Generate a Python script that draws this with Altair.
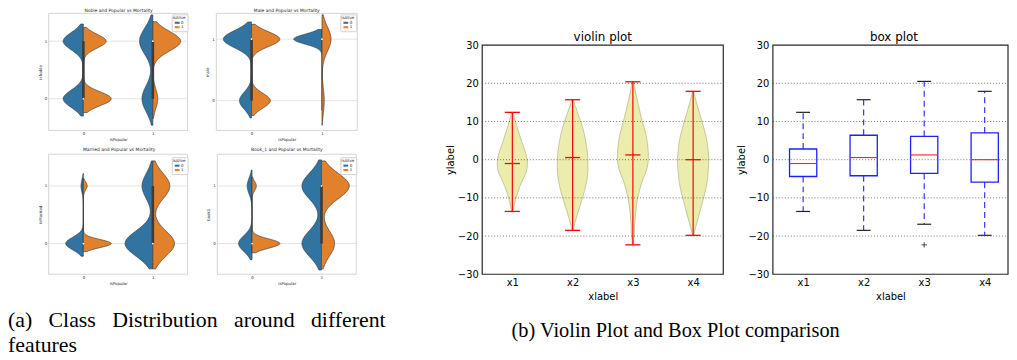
import altair as alt
import pandas as pd

W, H = 1009, 352
FONT = "DejaVu Sans"
TXT = "#262626"
BLUE, ORANGE = "#3274a1", "#e1812c"
EDGE = "#3c3c3c"

# ---------------- (a) seaborn split violins: data ----------------
# halves in order: (isPopular, isAlive) = (0,0), (0,1), (1,0), (1,1)
HALF_POP = [0, 0, 1, 1]
HALF_ALIVE = [0, 1, 0, 1]
LEVELS = [0, 1]

NOBLE_ZEROS = [10, 11, 9, 3]
NOBLE_ONES = [10, 9, 11, 17]
NOBLE_BW = [0.15, 0.12, 0.23, 0.17]
NOBLE_BOX = ([0, 0], [1, 1], [0, 1])   # box low, box high, median per isPopular level

MALE_ZEROS = [6, 8, 0, 4]
MALE_ONES = [14, 12, 20, 16]
MALE_BW = [0.14, 0.12, 0.08, 0.20]
MALE_BOX = ([0, 1], [1, 1], [1, 1])

MARRIED_ZEROS = [22, 22, 18, 14]
MARRIED_ONES = [3, 3, 7, 11]
MARRIED_BW = [0.11, 0.07, 0.22, 0.22]
MARRIED_BOX = ([0, 0], [0, 1], [0, 0])

BOOK_ZEROS = [22, 26, 15, 8]
BOOK_ONES = [8, 4, 15, 17]
BOOK_BW = [0.14, 0.08, 0.23, 0.22]
BOOK_BOX = ([0, 0], [0, 1], [0, 1])

SNS_XDOM = [-0.5, 1.5]

SNS = [
    dict(title="Noble and Popular vs Mortality", ylab="isNoble", zeros=NOBLE_ZEROS, ones=NOBLE_ONES,
         bw=NOBLE_BW, box=NOBLE_BOX, xr=[41, 181], yr=[122, 4], yd=[-0.55, 1.483],
         leg=(165, 5), tpos=(111.5, 1.5)),
    dict(title="Male and Popular vs Mortality", ylab="male", zeros=MALE_ZEROS, ones=MALE_ONES,
         bw=MALE_BW, box=MALE_BOX, xr=[210, 352], yr=[122, 4], yd=[-0.484, 1.419],
         leg=(335, 5), tpos=(281, 1.5)),
    dict(title="Married and Popular vs Mortality", ylab="isMarried", zeros=MARRIED_ZEROS, ones=MARRIED_ONES,
         bw=MARRIED_BW, box=MARRIED_BOX, xr=[41, 181], yr=[267, 146], yd=[-0.534, 1.552],
         leg=(165, 149), tpos=(112, 142)),
    dict(title="Book_1 and Popular vs Mortality", ylab="book1", zeros=BOOK_ZEROS, ones=BOOK_ONES,
         bw=BOOK_BW, box=BOOK_BOX, xr=[211, 351], yr=[267, 146], yd=[-0.534, 1.552],
         leg=(335, 149), tpos=(281, 142)),
]


def sns_panel(s):
    xs = alt.Scale(domain=SNS_XDOM, range=s["xr"], nice=False, zero=False)
    ys = alt.Scale(domain=s["yd"], range=s["yr"], nice=False, zero=False)
    common = dict(labelFontSize=4, titleFontSize=4, labelFont=FONT, titleFont=FONT,
                  labelColor=TXT, titleColor=TXT, titleFontWeight="normal",
                  domain=False, ticks=False, grid=False, values=LEVELS, format="d")
    xax = alt.Axis(orient="bottom", offset=s["yr"][0] - H, title="isPopular",
                   labelPadding=1.5, titlePadding=1.5, **common)
    yax = alt.Axis(orient="left", offset=-s["xr"][0], title=s["ylab"],
                   labelPadding=2, titlePadding=2, **common)

    def X(f):
        return alt.X(f"{f}:Q", scale=xs, axis=xax, stack=None)

    def Y(f):
        return alt.Y(f"{f}:Q", scale=ys, axis=yax, stack=None)

    rows = []
    for pop, alive, n0, n1, b in zip(HALF_POP, HALF_ALIVE, s["zeros"], s["ones"], s["bw"]):
        rows += [{"pop": pop, "alive": alive, "bw": b, "v": 0}] * n0
        rows += [{"pop": pop, "alive": alive, "bw": b, "v": 1}] * n1
    zmax = 1 / min(s["bw"]) + 2.05

    grid_df = pd.DataFrame({"t": LEVELS, "x0": SNS_XDOM[0], "x1": SNS_XDOM[1]})
    grid = alt.Chart(grid_df).mark_rule(color="#e4e4e4", strokeWidth=1).encode(
        x=X("x0"), x2="x1:Q", y=Y("t"))

    violins = (
        alt.Chart(pd.DataFrame(rows))
        .transform_calculate(z="datum.v / datum.bw")
        .transform_density("z", groupby=["pop", "alive", "bw"], bandwidth=1,
                           extent=[-2, zmax], steps=400, as_=["z", "dens"])
        .transform_filter("datum.z <= 1 / datum.bw + 2.0001")
        .transform_calculate(val="datum.z * datum.bw", d="datum.dens / datum.bw")
        .transform_joinaggregate(dmax="max(d)", groupby=["pop"])
        .transform_calculate(w="0.4 * datum.d / datum.dmax")
        .transform_calculate(xo="datum.alive == 0 ? datum.pop - datum.w : datum.pop + datum.w")
        .mark_area(orient="horizontal", stroke=EDGE, strokeWidth=0.7, opacity=1)
        .encode(
            y=Y("val"), x=X("pop"), x2="xo:Q", detail="pop:N",
            color=alt.Color("alive:N", scale=alt.Scale(domain=[0, 1], range=[BLUE, ORANGE]),
                            legend=alt.Legend(title="isAlive", orient="none",
                                              legendX=s["leg"][0], legendY=s["leg"][1],
                                              titleFontSize=4, labelFontSize=4, titleFont=FONT,
                                              labelFont=FONT, titleColor=TXT, labelColor=TXT,
                                              titleFontWeight="normal", titleAnchor="middle",
                                              symbolType="M-1.6,-0.7H1.6V0.7H-1.6Z", symbolSize=9,
                                              symbolStrokeWidth=0, padding=1.5, rowPadding=0.5,
                                              titlePadding=1, labelOffset=2, fillColor="white",
                                              strokeColor="#d0d0d0", cornerRadius=1)),
        )
    )

    lo, hi, med = s["box"]
    box_df = pd.DataFrame({"pop": LEVELS, "lo": lo, "hi": hi, "med": med})
    box = alt.Chart(box_df).mark_rule(color=EDGE, strokeWidth=2.6, strokeCap="butt").encode(
        x=X("pop"), y=Y("lo"), y2="hi:Q")
    dots = alt.Chart(box_df).mark_circle(color="white", size=3, opacity=1).encode(
        x=X("pop"), y=Y("med"))

    frame_df = pd.DataFrame({"x0": [SNS_XDOM[0]], "x1": [SNS_XDOM[1]],
                             "y0": [s["yd"][0]], "y1": [s["yd"][1]]})
    frame = alt.Chart(frame_df).mark_rect(fillOpacity=0, stroke="#d4d4d4", strokeWidth=1).encode(
        x=X("x0"), x2="x1:Q", y=Y("y0"), y2="y1:Q")

    title = alt.Chart(pd.DataFrame({"t": [s["title"]]})).mark_text(
        fontSize=4.5, font=FONT, color=TXT, align="center", baseline="middle").encode(
        text="t:N", x=alt.value(s["tpos"][0]), y=alt.value(s["tpos"][1]))

    return alt.layer(grid, violins, box, dots, frame, title)


# ---------------- (b) violin plot & box plot: data ----------------
CATS = ["x1", "x2", "x3", "x4"]
POS = [1, 2, 3, 4]
Y_TICKS = [-30, -20, -10, 0, 10, 20, 30]
GRID_Y = [-20, -10, 0, 10, 20]

VIO_Y = [
    [12.4, 11, 9, 7, 5, 3, 1, -1, -3, -5, -7, -9, -11, -13.5],
    [15.8, 14, 12, 10, 7, 4, 1, -2, -5, -8, -11, -14, -16.5, -18.5],
    [20.5, 18, 15, 12, 9, 6, 3, 1, -1, -3, -5, -8, -11, -14, -17, -20, -22.3],
    [17.8, 15, 12, 9, 6, 3, 0, -3, -6, -9, -12, -15, -17.5, -19.8],
]
VIO_W = [
    [0.01, 0.035, 0.07, 0.11, 0.15, 0.195, 0.235, 0.25, 0.235, 0.18, 0.125, 0.08, 0.045, 0.01],
    [0.01, 0.045, 0.09, 0.135, 0.19, 0.225, 0.25, 0.255, 0.24, 0.2, 0.145, 0.085, 0.04, 0.01],
    [0.01, 0.04, 0.08, 0.125, 0.175, 0.225, 0.25, 0.257, 0.25, 0.22, 0.17, 0.11, 0.07, 0.045, 0.03, 0.02, 0.01],
    [0.01, 0.055, 0.11, 0.165, 0.215, 0.245, 0.26, 0.25, 0.23, 0.19, 0.14, 0.09, 0.045, 0.01],
]
VIO_MIN = [-13.55, -18.5, -22.3, -19.8]
VIO_MAX = [12.4, 15.7, 20.4, 17.9]
VIO_MEAN = [-1.0, 0.56, 1.25, 0.0]

BOX_Q1 = [-4.4, -4.2, -3.6, -5.9]
BOX_Q3 = [2.8, 6.4, 6.1, 7.0]
BOX_MED = [-1.0, 0.56, 1.25, 0.0]
WHISK_LO = [-13.55, -18.5, -16.9, -19.8]
WHISK_HI = [12.4, 15.7, 20.5, 17.9]
FLIER_POS = [3]
FLIER_VAL = [-22.3]

B_YDOM = [-30, 30]
B_YR = [267, 36]


def b_scales(xdom, xr):
    xs = alt.Scale(domain=xdom, range=xr, nice=False, zero=False)
    ys = alt.Scale(domain=B_YDOM, range=B_YR, nice=False, zero=False)
    common = dict(labelFontSize=10, titleFontSize=10, labelFont=FONT, titleFont=FONT,
                  labelColor="black", titleColor="black", titleFontWeight="normal",
                  domain=False, ticks=False, grid=False)
    label_expr = "[" + ",".join(f"'{c}'" for c in CATS) + "][datum.value - 1]"
    xax = alt.Axis(orient="bottom", offset=B_YR[0] - H, values=POS, labelExpr=label_expr,
                   title="xlabel", labelPadding=3, titlePadding=4, **common)
    yax = alt.Axis(orient="left", offset=-xr[0], values=Y_TICKS, title="ylabel",
                   labelPadding=4, titlePadding=2, **common)

    def X(f):
        return alt.X(f"{f}:Q", scale=xs, axis=xax, stack=None)

    def Y(f):
        return alt.Y(f"{f}:Q", scale=ys, axis=yax, stack=None)

    return X, Y


def b_frame(X, Y, xdom):
    fdf = pd.DataFrame({"x0": [xdom[0]], "x1": [xdom[1]], "y0": [B_YDOM[0]], "y1": [B_YDOM[1]]})
    frame = alt.Chart(fdf).mark_rect(fillOpacity=0, stroke="#262626", strokeWidth=1.2).encode(
        x=X("x0"), x2="x1:Q", y=Y("y0"), y2="y1:Q")
    gdf = pd.DataFrame({"t": GRID_Y, "x0": xdom[0], "x1": xdom[1]})
    grid = alt.Chart(gdf).mark_rule(color="#555555", strokeWidth=0.8, strokeDash=[1, 2]).encode(
        x=X("x0"), x2="x1:Q", y=Y("t"))
    return frame, grid


def violin_panel():
    xdom, xr = [0.5, 4.5], [478, 721]
    X, Y = b_scales(xdom, xr)
    rows = []
    for p, ys_, ws_ in zip(POS, VIO_Y, VIO_W):
        for yv, wv in zip(ys_, ws_):
            rows.append({"pos": p, "y": yv, "w": wv})
    body = (
        alt.Chart(pd.DataFrame(rows))
        .transform_calculate(lo="datum.pos - datum.w", hi="datum.pos + datum.w")
        .mark_area(orient="horizontal", interpolate="monotone", fill="#c4c400", fillOpacity=0.32,
                   stroke="#a3a370", strokeWidth=0.8, strokeOpacity=0.7)
        .encode(y=Y("y"), x=X("lo"), x2="hi:Q", detail="pos:N")
    )
    sdf = pd.DataFrame({"pos": POS, "mn": VIO_MIN, "mx": VIO_MAX, "mean": VIO_MEAN})
    vline = alt.Chart(sdf).mark_rule(color="red", strokeWidth=1.2).encode(
        x=X("pos"), y=Y("mn"), y2="mx:Q")
    bars = (
        alt.Chart(sdf)
        .transform_fold(["mn", "mx", "mean"], as_=["k", "v"])
        .transform_calculate(a="datum.pos - 0.125", b="datum.pos + 0.125")
        .mark_rule(color="red", strokeWidth=1.3)
        .encode(x=X("a"), x2="b:Q", y=Y("v"))
    )
    frame, grid = b_frame(X, Y, xdom)
    title = alt.Chart(pd.DataFrame({"t": ["violin plot"]})).mark_text(
        fontSize=12, font=FONT, color="black", align="center", baseline="middle").encode(
        text="t:N", x=alt.value(599.5), y=alt.value(28))
    return alt.layer(body, vline, bars, grid, frame, title)


def box_panel():
    xdom, xr = [0.5, 4.385], [771, 1008]
    X, Y = b_scales(xdom, xr)
    bdf = pd.DataFrame({"pos": POS, "q1": BOX_Q1, "q3": BOX_Q3, "med": BOX_MED,
                        "wlo": WHISK_LO, "whi": WHISK_HI})
    rect = (
        alt.Chart(bdf)
        .transform_calculate(a="datum.pos - 0.225", b="datum.pos + 0.225")
        .mark_rect(fillOpacity=0, stroke="#2020ff", strokeWidth=1.3)
        .encode(x=X("a"), x2="b:Q", y=Y("q1"), y2="q3:Q")
    )
    med = (
        alt.Chart(bdf)
        .transform_calculate(a="datum.pos - 0.225", b="datum.pos + 0.225")
        .mark_rule(color="#ff2020", strokeWidth=1.1)
        .encode(x=X("a"), x2="b:Q", y=Y("med"))
    )
    w_hi = alt.Chart(bdf).mark_rule(color="#2020ff", strokeWidth=1.1, strokeDash=[6, 4]).encode(
        x=X("pos"), y=Y("q3"), y2="whi:Q")
    w_lo = alt.Chart(bdf).mark_rule(color="#2020ff", strokeWidth=1.1, strokeDash=[6, 4]).encode(
        x=X("pos"), y=Y("q1"), y2="wlo:Q")
    caps = (
        alt.Chart(bdf)
        .transform_fold(["wlo", "whi"], as_=["k", "v"])
        .transform_calculate(a="datum.pos - 0.115", b="datum.pos + 0.115")
        .mark_rule(color="#222222", strokeWidth=1.2)
        .encode(x=X("a"), x2="b:Q", y=Y("v"))
    )
    fl = alt.Chart(pd.DataFrame({"pos": FLIER_POS, "v": FLIER_VAL})).mark_point(
        shape="M-1,0H1M0,-1V1", filled=False, size=28, color="#333333", strokeWidth=0.9,
        opacity=1).encode(x=X("pos"), y=Y("v"))
    frame, grid = b_frame(X, Y, xdom)
    title = alt.Chart(pd.DataFrame({"t": ["box plot"]})).mark_text(
        fontSize=12, font=FONT, color="black", align="center", baseline="middle").encode(
        text="t:N", x=alt.value(893), y=alt.value(28))
    return alt.layer(rect, w_hi, w_lo, caps, med, fl, grid, frame, title)


# ---------------- captions ----------------
NB = "\u00a0"
GAP = NB * 2 + " "
CAP_A = ["(a)" + GAP + "Class" + GAP + "Distribution" + GAP + "around" + GAP + "different",
         "features"]
CAP_B = "(b) Violin Plot and Box Plot comparison"

cap_a = alt.Chart(pd.DataFrame({"k": [0]})).mark_text(
    font="Liberation Serif", fontSize=22, color="black", align="left", baseline="middle",
    lineHeight=25, text=CAP_A).encode(x=alt.value(0), y=alt.value(313))
cap_b = alt.Chart(pd.DataFrame({"k": [0]})).mark_text(
    font="Liberation Serif", fontSize=20.5, color="black", align="center", baseline="middle",
    text=CAP_B).encode(x=alt.value(673), y=alt.value(324))

panels = [sns_panel(s) for s in SNS] + [violin_panel(), box_panel()]

chart = (
    alt.layer(*panels, cap_a, cap_b)
    .resolve_scale(x="independent", y="independent", color="independent")
    .resolve_legend(color="independent")
    .properties(width=W, height=H, padding=0, autosize=alt.AutoSizeParams(type="none"),
                background="white")
    .configure_view(stroke=None)
)

chart.save("out.html", embed_options={"renderer": "svg", "actions": False})
